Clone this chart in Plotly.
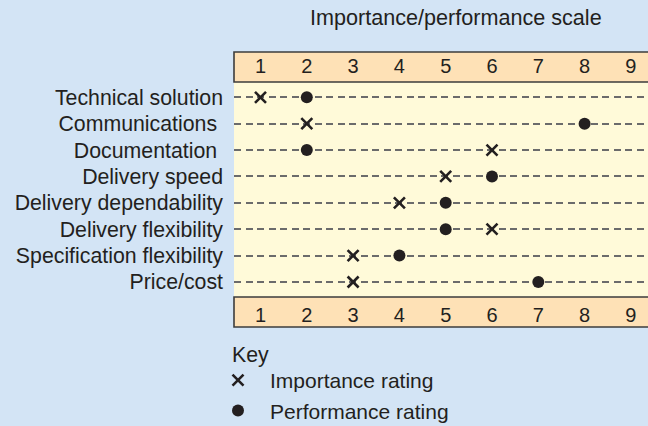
import plotly.graph_objects as go

categories = ["Technical solution", "Communications\u00a0", "Documentation\u00a0", "Delivery speed",
              "Delivery dependability", "Delivery flexibility", "Specification flexibility", "Price/cost"]
importance = [1, 2, 6, 5, 4, 6, 3, 3]
performance = [2, 8, 2, 6, 5, 5, 4, 7]
scale_ticks = [1, 2, 3, 4, 5, 6, 7, 8, 9]

BLUE = "#d3e4f5"
YELLOW = "#fffad9"
PEACH = "#fee1b6"
INK = "#231f20"
FONT = "Liberation Sans, Arial, sans-serif"

rows = list(range(len(categories)))

fig = go.Figure()
fig.add_trace(go.Scatter(
    x=importance, y=rows, mode="markers", name="Importance rating",
    marker=dict(symbol="x-thin", size=11, line=dict(width=2.6, color=INK), color=INK),
))
fig.add_trace(go.Scatter(
    x=performance, y=rows, mode="markers", name="Performance rating", xaxis="x2",
    marker=dict(symbol="circle", size=12, color=INK),
))

W, H = 648, 426
l, r, t, b = 234, 0, 82, 129
ph = H - t - b
band = 30 / ph

fig.add_shape(type="rect", xref="paper", yref="paper", x0=0, x1=1.02, y0=1, y1=1 + band,
              fillcolor=PEACH, line=dict(color="#3c3c3c", width=1.6), layer="below")
fig.add_shape(type="rect", xref="paper", yref="paper", x0=0, x1=1.02, y0=-band, y1=0,
              fillcolor=PEACH, line=dict(color="#3c3c3c", width=1.6), layer="below")

xr = [1 + (234 - 260.5) / 46.3, 1 + (648 - 260.5) / 46.3]
yr = [(297 - 97.3) / 26.38, (82 - 97.3) / 26.38]

axis_common = dict(range=xr, tickvals=scale_ticks, ticktext=[str(v) for v in scale_ticks],
                   showgrid=False, zeroline=False, showline=False, ticks="", automargin=False,
                   tickfont=dict(family=FONT, size=20, color=INK))
fig.update_layout(
    width=W, height=H, margin=dict(l=l, r=r, t=t, b=b, autoexpand=False),
    paper_bgcolor=BLUE, plot_bgcolor=YELLOW,
    font=dict(family=FONT, size=21, color=INK),
    xaxis=dict(**axis_common, side="bottom", ticklabelstandoff=4),
    xaxis2=dict(**axis_common, side="top", overlaying="x", anchor="y",
                ticklabelstandoff=4),
    yaxis=dict(range=yr, tickvals=rows, ticktext=categories, showgrid=True,
               griddash="7px,4.5px", gridcolor="#6b6b6b", gridwidth=1.5,
               zeroline=False, showline=False, ticks="", ticklabelstandoff=10,
               automargin=False,
               tickfont=dict(family=FONT, size=21.3, color=INK)),
    title=dict(text="Importance/performance scale", x=310 / W, xanchor="left",
               y=1 - 17 / H, yanchor="middle", xref="container", yref="container",
               font=dict(family=FONT, size=21.6, color=INK)),
    showlegend=True,
    legend=dict(xref="container", yref="container", x=206 / W, xanchor="left",
                y=1 - 360 / H, yanchor="top", tracegroupgap=0,
                bgcolor="rgba(0,0,0,0)", itemwidth=54,
                font=dict(family=FONT, size=21, color=INK)),
    annotations=[dict(text="Key", xref="paper", yref="paper", x=(230 - l) / (W - l - r),
                      y=-(355 - 297) / ph, xanchor="left", yanchor="middle", showarrow=False,
                      font=dict(family=FONT, size=21.3, color=INK))],
)

fig.write_html("out.html", config={"displayModeBar": False},
               post_script="document.body.style.margin='0';")
